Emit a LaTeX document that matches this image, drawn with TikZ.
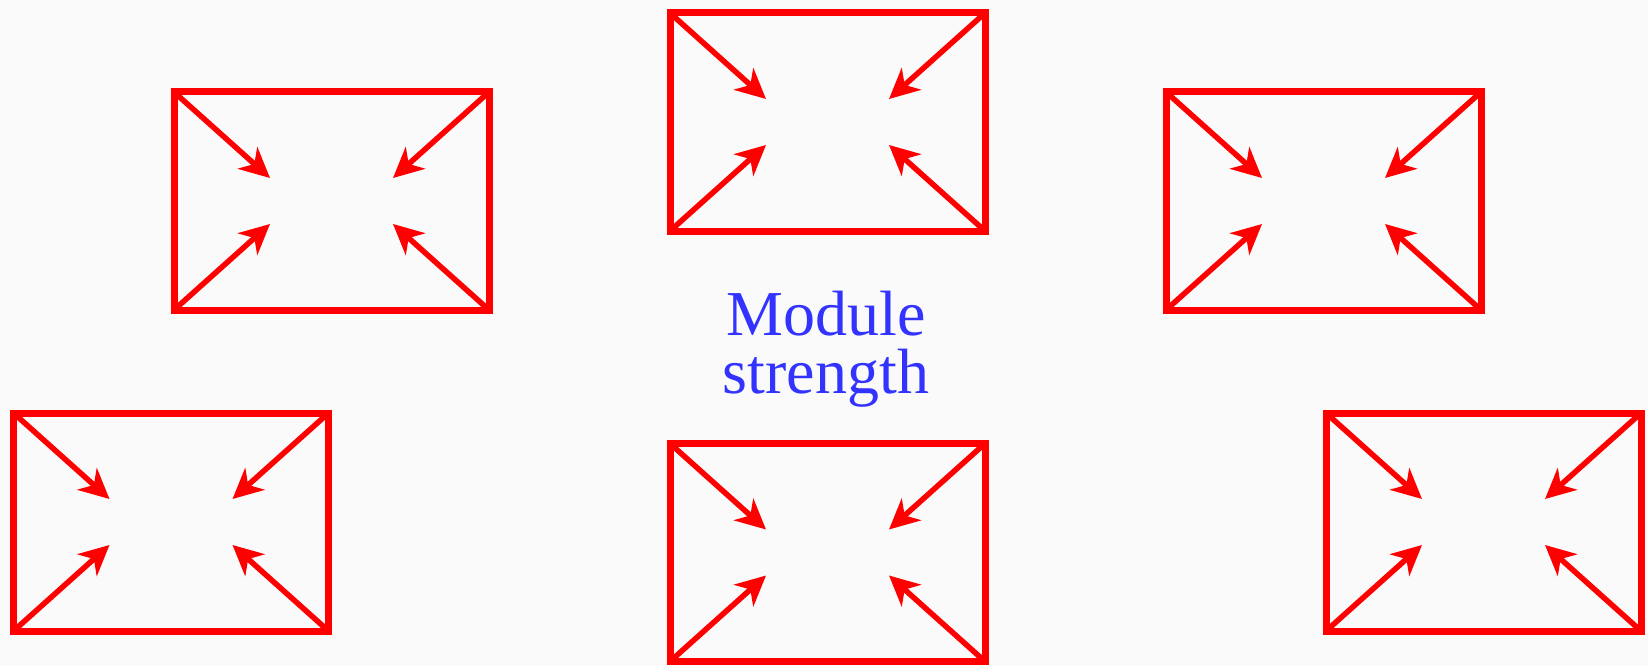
\documentclass[tikz,border=0pt]{standalone}
\usepackage{fontspec}
\setmainfont{Liberation Serif}
\usetikzlibrary{arrows.meta}
\definecolor{boxred}{RGB}{255,0,0}
\definecolor{textblue}{RGB}{51,51,255}
\definecolor{paper}{RGB}{250,250,250}
\tikzset{
	module/.style={rectangle, draw=boxred, line width=7pt, minimum width=315pt, minimum height=218pt, inner sep=0pt, outer sep=0pt},
	pull/.style={draw=boxred, line width=5.5pt, -{Stealth[length=30pt, width=29pt, inset=9pt]}}
}
\begin{document}
\begin{tikzpicture}[x=1pt,y=-1pt]
	\useasboundingbox[fill=paper] (0,0) rectangle (1648,666);
	% the six modules
	\node (M1) at ( 331.5, 201.0)	[module]	{};
	\node (M2) at ( 827.5, 122.0)	[module]	{};
	\node (M3) at (1323.5, 201.0)	[module]	{};
	\node (M4) at ( 171.0, 522.0)	[module]	{};
	\node (M5) at ( 827.5, 552.5)	[module]	{};
	\node (M6) at (1483.5, 522.0)	[module]	{};
	\node (lbl) at (826, 349) [text=textblue, align=center, inner sep=0pt, font=\fontsize{64}{58}\selectfont]	{Module\\strength};
	% corners pulled in toward the middle
	\foreach \m in {M1,M2,M3,M4,M5,M6} {
		\path (\m.center) ++(-61.5,-23) coordinate (\m-nw) (\m.center) ++(61.5,-23) coordinate (\m-ne)
			(\m.center) ++(-61.5,23) coordinate (\m-sw) (\m.center) ++(61.5,23) coordinate (\m-se);
		\draw[pull] (\m.north west) -- (\m-nw);
		\draw[pull] (\m.north east) -- (\m-ne);
		\draw[pull] (\m.south west) -- (\m-sw);
		\draw[pull] (\m.south east) -- (\m-se);
	}
\end{tikzpicture}
\end{document}
